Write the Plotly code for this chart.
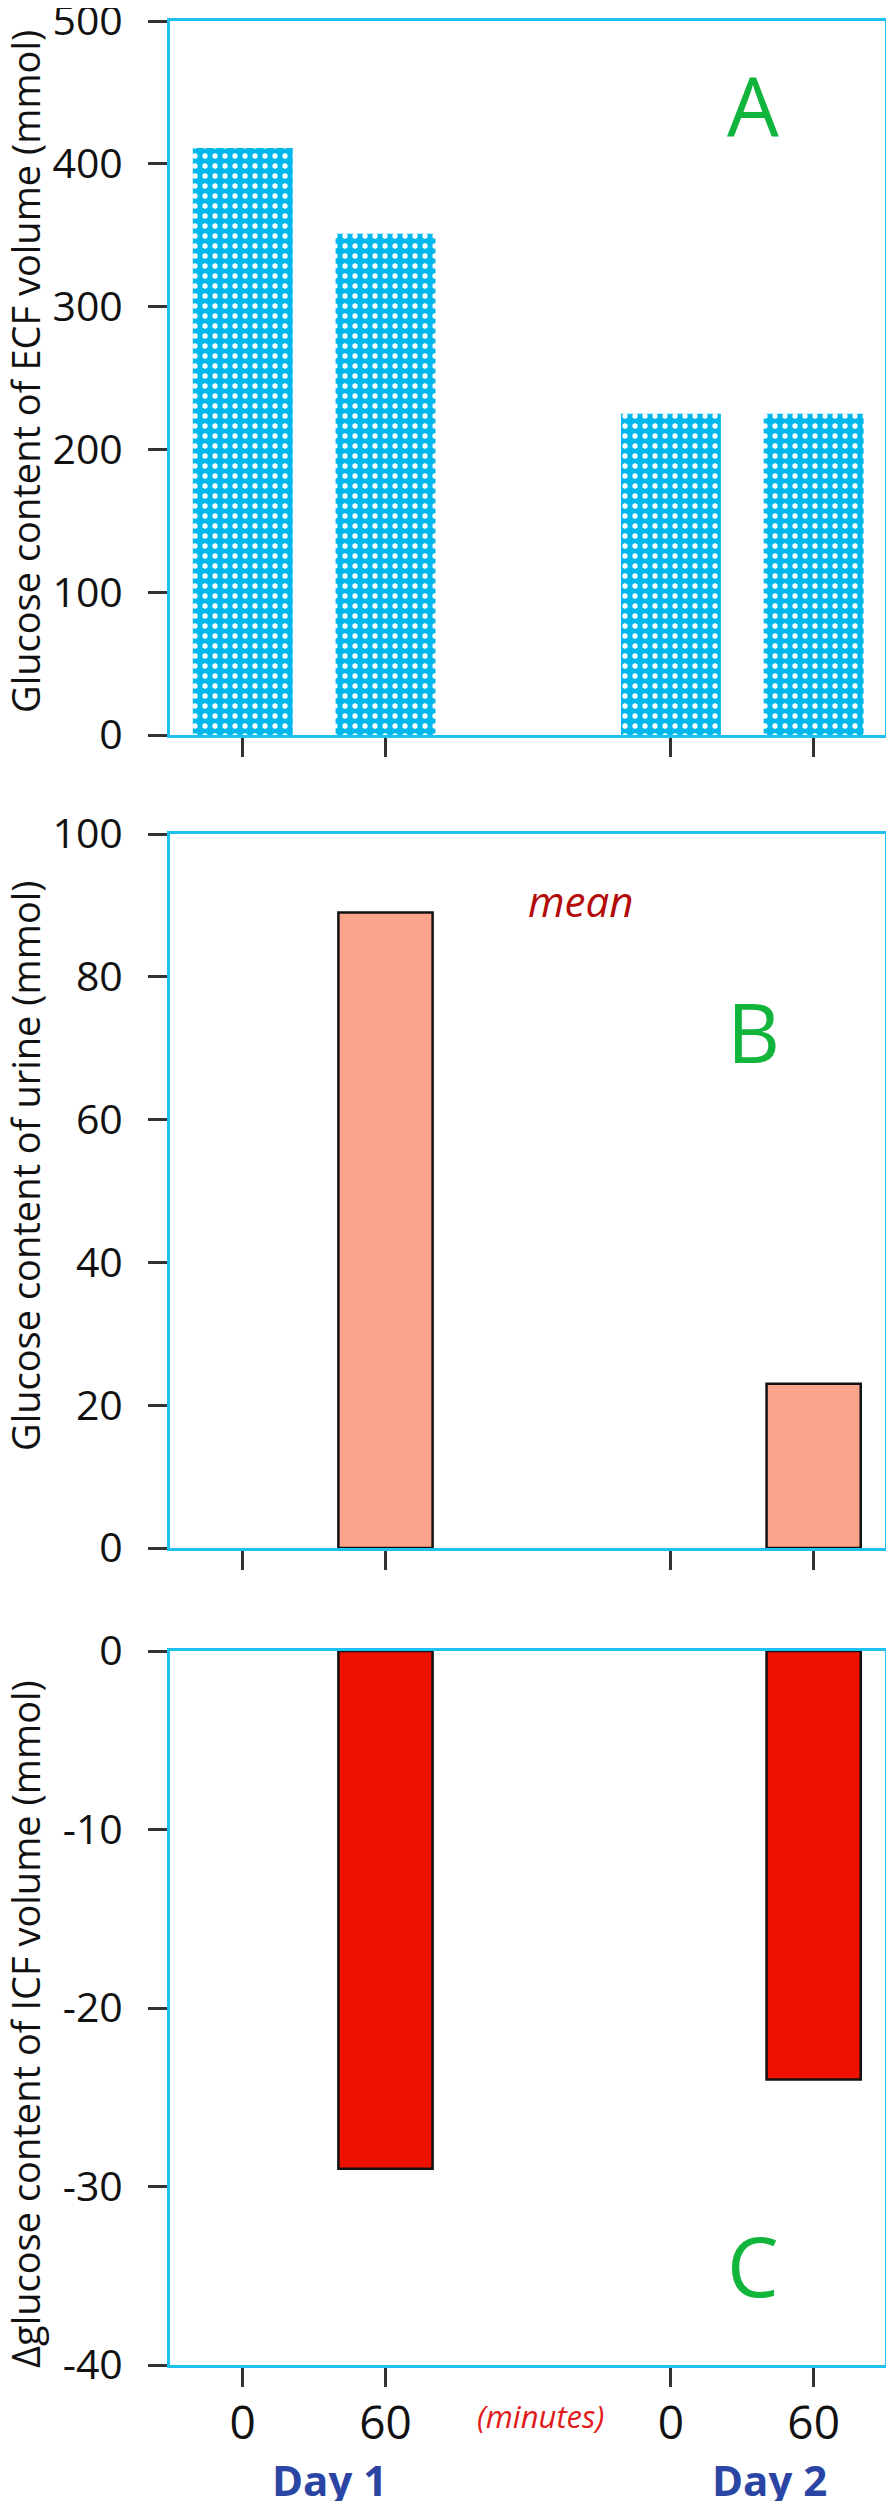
import plotly.graph_objects as go

# ---- data ----
categories = ["Day 1 / 0 min", "Day 1 / 60 min", "gap", "Day 2 / 0 min", "Day 2 / 60 min"]
tick_categories = ["Day 1 / 0 min", "Day 1 / 60 min", "Day 2 / 0 min", "Day 2 / 60 min"]
tick_labels = ["0", "60", "0", "60"]
ecf_glucose = [411, 351, None, 225, 225]          # panel A (mmol)
urine_glucose = [None, 89, None, None, 23]        # panel B (mmol)
icf_delta_glucose = [None, -29, None, None, -24]  # panel C (mmol)

ecf_ticks = [0, 100, 200, 300, 400, 500]
urine_ticks = [0, 20, 40, 60, 80, 100]
icf_ticks = [0, -10, -20, -30, -40]
icf_tick_labels = ["0", "-10", "-20", "-30", "-40"]

# page body has an 8px default margin: keep figure inside the viewport
PAGE_W, PAGE_H = 894, 2509
OFF = 8
W, H = PAGE_W - 2 * OFF, PAGE_H - 2 * OFF
FONT = "Open Sans"
CYAN_LINE = "#1cc1f0"
CYAN_BAR = "#00b7eb"
TICKC = "#333333"

def px_x(p):
    return (p - OFF) / W

def px_y(p):
    return 1 - (p - OFF) / H

fig = go.Figure()

fig.add_trace(go.Bar(
    x=categories, y=ecf_glucose, xaxis="x", yaxis="y", width=0.70,
    marker=dict(color=CYAN_BAR, line=dict(width=0),
                pattern=dict(shape=".", fgcolor="white", bgcolor=CYAN_BAR,
                             size=10, solidity=0.22, fillmode="replace")),
    showlegend=False, hoverinfo="skip"))
fig.add_trace(go.Bar(
    x=categories, y=urine_glucose, xaxis="x2", yaxis="y2", width=0.66,
    marker=dict(color="#fca48b", line=dict(color="#111111", width=2.5)),
    showlegend=False, hoverinfo="skip"))
fig.add_trace(go.Bar(
    x=categories, y=icf_delta_glucose, xaxis="x3", yaxis="y3", width=0.66,
    marker=dict(color="#ee1100", line=dict(color="#111111", width=2.5)),
    showlegend=False, hoverinfo="skip"))

xdom = [px_x(170), px_x(885)]
xrange = [-0.51, 4.5]
panels = [  # (top px, bottom px, y range, tickvals, ticktext)
    (21, 735, [0, 500], ecf_ticks, [str(v) for v in ecf_ticks]),
    (834, 1548, [0, 100], urine_ticks, [str(v) for v in urine_ticks]),
    (1651, 2365, [-40, 0], icf_ticks, icf_tick_labels),
]

common_x = dict(
    type="category", categoryorder="array", categoryarray=categories,
    range=xrange, domain=xdom,
    showline=True, linecolor=CYAN_LINE, linewidth=3, mirror=True,
    ticks="outside", ticklen=19, tickwidth=2.5, tickcolor=TICKC,
    tickmode="array", tickvals=tick_categories, ticktext=tick_labels,
    showgrid=False, zeroline=False, automargin=False,
    tickfont=dict(family=FONT, size=46, color="#111111"),
    ticklabelstandoff=-3, ticklabeloverflow="allow",
)
common_y = dict(
    showline=True, linecolor=CYAN_LINE, linewidth=3, mirror=True,
    ticks="outside", ticklen=19, tickwidth=2.5, tickcolor=TICKC,
    showgrid=False, zeroline=False, automargin=False,
    tickfont=dict(family=FONT, size=41, color="#111111"),
    ticklabelstandoff=17, ticklabeloverflow="allow", tickmode="array",
)

layout = dict(
    width=W, height=H, margin=dict(l=0, r=0, t=0, b=0),
    paper_bgcolor="white", plot_bgcolor="white", bargap=0.3,
)
for i, (top, bot, rng, tv, tt) in enumerate(panels):
    sfx = "" if i == 0 else str(i + 1)
    xa = dict(common_x)
    xa["anchor"] = "y" + sfx
    xa["showticklabels"] = (i == 2)
    ya = dict(common_y)
    ya.update(domain=[px_y(bot), px_y(top)], range=rng, tickvals=tv, ticktext=tt,
              anchor="x" + sfx)
    layout["xaxis" + sfx] = xa
    layout["yaxis" + sfx] = ya

fig.update_layout(**layout)

def ann(text, x, y, size, color, angle=0, family=FONT):
    fig.add_annotation(text=text, x=px_x(x), y=px_y(y), xref="paper", yref="paper",
                       xanchor="center", yanchor="middle", showarrow=False,
                       textangle=angle, font=dict(family=family, size=size, color=color))

ytitle_color = "#111111"
ann("Glucose content of ECF volume (mmol)", 25, 372, 38, ytitle_color, -90)
ann("Glucose content of urine (mmol)", 25, 1166, 38, ytitle_color, -90)
ann("\u0394glucose content of ICF volume (mmol)", 25, 2024, 38, ytitle_color, -90)

ann("A", 753, 105, 82, "#12b53c")
ann("B", 753, 1031, 82, "#12b53c")
ann("C", 753, 2265, 82, "#12b53c")
ann("<i>mean</i>", 580, 900, 42, "#b30a0a")
ann("<i>(minutes)</i>", 540, 2416, 31, "#e01b1b")
ann("<b>Day 1</b>", 329, 2479, 42, "#2a45a3")
ann("<b>Day 2</b>", 769, 2479, 42, "#2a45a3")

fig.write_html("out.html")
